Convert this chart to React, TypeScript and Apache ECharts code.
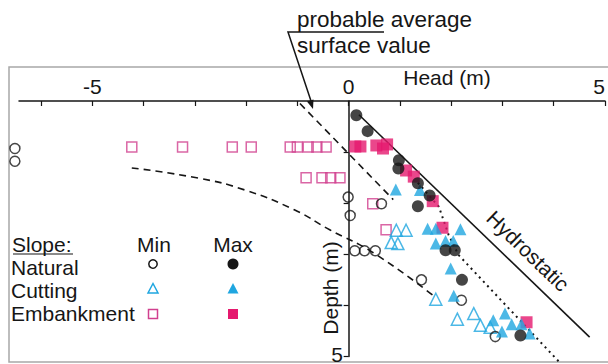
import { useEffect, useRef } from "react";
import * as echarts from "echarts";

const FONT = '"Liberation Sans", Arial, Helvetica, sans-serif';

// Axis ticks and labels
const headTicks = [-6, -5, -4, -3, -2, -1, 0, 1, 2, 3, 4, 5];
const headLabels = [-5, 0, 5];
const depthTicks = [1, 2, 3, 4, 5];
const depthLabels = ["5"];

// Piezometer readings: [head (m), depth (m)]
const naturalMin = [
  [-6.51, 0.93], [-6.51, 1.18], [-0.01, 1.88], [0.03, 2.24], [0.64, 2.01],
  [0.12, 2.93], [0.31, 2.93], [0.52, 2.93], [1.42, 3.5], [2.2, 3.9], [2.86, 4.61],
];
const naturalMax = [
  [0.15, 0.28], [0.37, 0.59], [0.98, 1.16], [0.97, 1.32], [1.35, 1.61],
  [1.58, 1.85], [1.35, 2.06], [1.89, 2.92], [2.07, 2.92], [2.21, 3.5], [3.35, 4.59],
];
const cuttingMin = [
  [0.93, 2.53], [1.12, 2.53], [0.83, 2.77], [0.96, 2.79], [1.7, 3.88],
  [2.12, 4.27], [2.44, 4.16], [2.57, 4.39], [2.76, 4.43],
];
const cuttingMax = [
  [0.92, 1.73], [1.39, 1.74], [1.54, 2.5], [1.7, 2.5], [2.18, 2.51],
  [1.7, 2.79], [1.89, 2.74], [2.04, 2.74], [1.99, 3.28], [2.05, 3.81],
  [2.82, 4.29], [3.05, 4.16], [3.18, 4.37], [2.99, 4.51], [3.37, 4.37], [3.53, 4.55],
];
const embankmentMin = [
  [-4.23, 0.9], [-3.24, 0.9], [-2.27, 0.9], [-1.9, 0.9], [-1.14, 0.9],
  [-1.0, 0.9], [-0.79, 0.9], [-0.62, 0.9], [-0.44, 0.9],
  [-0.83, 1.5], [-0.52, 1.5], [-0.35, 1.5], [-0.17, 1.5],
  [0.47, 2.01], [0.73, 2.52],
];
const embankmentMax = [
  [0.13, 0.89], [0.23, 0.89], [0.54, 0.87], [0.67, 0.93], [0.75, 0.85],
  [1.12, 1.36], [1.27, 1.48], [1.64, 1.96], [1.83, 2.48], [3.47, 4.33],
];

// Reference lines
const hydrostatic = [[0.2, 0.27], [4.7, 4.62]];
const surfaceTrend = [[-0.95, 0.05], [0.87, 1.93]];
const minEnvelope = [
  [-4.23, 1.31], [-2.93, 1.51], [-2.03, 1.74], [-1.06, 2.13],
  [-0.37, 2.52], [0.48, 2.97], [1.64, 3.8],
];
const maxTrend = [[1.35, 1.6], [1.76, 2.07], [1.95, 2.62], [2.14, 3.01], [4.1, 5.1]];

const BLACK = "#161616";
const CYAN = "#1fa6e0";
const PINK = "#e5196e";
const PINK_OPEN = "#d1408f";
const CLEAR = "rgba(255,255,255,0)";

export default function App() {
  const ref = useRef<HTMLDivElement>(null);

  useEffect(() => {
    if (!ref.current) return;
    const chart = echarts.init(ref.current, null, { renderer: "svg" });

    const openSym = (name: string, data: number[][], symbol: string, size: number, color: string) => ({
      type: "scatter",
      name,
      data,
      symbol,
      symbolSize: size,
      clip: false,
      z: 3,
      itemStyle: { color: CLEAR, borderColor: color, borderWidth: 1.5 },
    });
    const fillSym = (name: string, data: number[][], symbol: string, size: number, color: string) => ({
      type: "scatter",
      name,
      data,
      symbol,
      symbolSize: size,
      clip: false,
      z: 4,
      itemStyle: { color },
    });
    const refLine = (name: string, data: number[][], type: any, width: number, smooth = false) => ({
      type: "line",
      name,
      data,
      smooth,
      symbol: "none",
      clip: false,
      z: 2,
      lineStyle: { color: BLACK, width, type },
    });

    const txt = (text: string, x: number, y: number, extra: any = {}) => ({
      type: "text",
      x,
      y,
      z: 10,
      ...extra,
      style: {
        text,
        fill: BLACK,
        fontSize: 21,
        fontFamily: FONT,
        textAlign: "left",
        textVerticalAlign: "middle",
        ...(extra.style || {}),
      },
    });

    const legendX1 = 153;
    const legendX2 = 233;
    const tri = (cx: number, cy: number, s: number) => [
      [cx, cy - s * 0.55],
      [cx + s * 0.5, cy + s * 0.4],
      [cx - s * 0.5, cy + s * 0.4],
    ];

    chart.setOption({
      animation: false,
      backgroundColor: "#ffffff",
      grid: { left: 19, top: 101, width: 592, height: 255.5 },
      xAxis: {
        type: "value",
        position: "top",
        min: -6.43,
        max: 5,
        axisLine: { onZero: false, lineStyle: { color: BLACK, width: 1.5 } },
        axisTick: { inside: true, length: 5, customValues: headTicks, lineStyle: { color: BLACK, width: 1.2 } },
        axisLabel: {
          customValues: headLabels,
          fontSize: 21,
          fontFamily: FONT,
          color: BLACK,
          margin: 4,
          alignMaxLabel: "right",
        },
        splitLine: { show: false },
      },
      yAxis: {
        type: "value",
        inverse: true,
        min: 0,
        max: 5,
        axisLine: { onZero: true, lineStyle: { color: BLACK, width: 1.5 } },
        axisTick: { length: 5, customValues: depthTicks, lineStyle: { color: BLACK, width: 1.2 } },
        axisLabel: { show: false },
        splitLine: { show: false },
      },
      series: [
        refLine("Hydrostatic", hydrostatic, "solid", 1.6),
        refLine("Surface trend", surfaceTrend, [7, 5], 1.6),
        refLine("Min envelope", minEnvelope, [7, 5], 1.6, true),
        refLine("Max trend", maxTrend, [2, 4], 2),
        openSym("Embankment min", embankmentMin, "rect", 10, PINK_OPEN),
        openSym("Cutting min", cuttingMin, "triangle", 12, CYAN),
        openSym("Natural min", naturalMin, "circle", 10, BLACK),
        fillSym("Embankment max", embankmentMax, "rect", 12, PINK),
        fillSym("Cutting max", cuttingMax, "triangle", 12, CYAN),
        fillSym("Natural max", naturalMax, "circle", 12, BLACK),
      ],
      graphic: [
        // frame
        {
          type: "rect",
          z: 1,
          shape: { x: 9, y: 67, width: 640, height: 295 },
          style: { fill: "none", stroke: "#a8a8a8", lineWidth: 1.5 },
        },
        txt("Head (m)", 447, 77, { style: { textAlign: "center" } }),
        txt("Depth (m)", 330, 288, { rotation: Math.PI / 2, style: { textAlign: "center" } }),
        txt(depthLabels[0], 343, 354, { style: { textAlign: "right" } }),
        txt("Hydrostatic", 528, 251, { rotation: -0.77, style: { textAlign: "center" } }),
        // annotation
        txt("probable average", 297, 19, { style: { fontSize: 22.5 } }),
        txt("surface value", 297, 45, { style: { fontSize: 22.5 } }),
        {
          type: "polyline",
          z: 10,
          shape: { points: [[384, 32], [288, 32], [311, 101]] },
          style: { stroke: BLACK, lineWidth: 1.5, fill: "none" },
        },
        {
          type: "polygon",
          z: 10,
          shape: { points: [[313, 109], [313.5, 99.4], [306.9, 101.6]] },
          style: { fill: BLACK },
        },
        // key
        txt("Slope:", 12, 244),
        {
          type: "line",
          z: 10,
          shape: { x1: 13, y1: 254, x2: 73, y2: 254 },
          style: { stroke: BLACK, lineWidth: 1.2 },
        },
        txt("Min", 154, 244, { style: { textAlign: "center" } }),
        txt("Max", 233, 244, { style: { textAlign: "center" } }),
        txt("Natural", 11, 267),
        txt("Cutting", 11, 290),
        txt("Embankment", 11, 313),
        {
          type: "circle",
          z: 10,
          shape: { cx: legendX1, cy: 264, r: 4.2 },
          style: { fill: "#fff", stroke: BLACK, lineWidth: 1.5 },
        },
        {
          type: "circle",
          z: 10,
          shape: { cx: legendX2, cy: 264, r: 5.5 },
          style: { fill: BLACK },
        },
        {
          type: "polygon",
          z: 10,
          shape: { points: tri(legendX1, 289, 10) },
          style: { fill: "#fff", stroke: CYAN, lineWidth: 1.5 },
        },
        {
          type: "polygon",
          z: 10,
          shape: { points: tri(legendX2, 289, 11) },
          style: { fill: CYAN },
        },
        {
          type: "rect",
          z: 10,
          shape: { x: legendX1 - 4.5, y: 309.5, width: 9, height: 9 },
          style: { fill: "#fff", stroke: PINK_OPEN, lineWidth: 1.5 },
        },
        {
          type: "rect",
          z: 10,
          shape: { x: legendX2 - 5, y: 309, width: 10, height: 10 },
          style: { fill: PINK },
        },
      ],
    });

    return () => chart.dispose();
  }, []);

  return (
    <div
      ref={ref}
      style={{ position: "absolute", left: 0, top: 0, width: 608, height: 364, background: "#fff" }}
    />
  );
}
